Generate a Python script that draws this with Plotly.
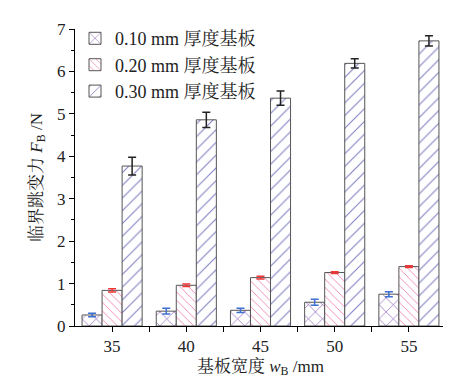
import plotly.graph_objects as go

widths = [35, 40, 45, 50, 55]
names = ["0.10 mm 厚度基板", "0.20 mm 厚度基板", "0.30 mm 厚度基板"]
f010 = [0.26, 0.35, 0.37, 0.56, 0.75]
e010 = [0.04, 0.07, 0.05, 0.07, 0.06]
f020 = [0.84, 0.96, 1.14, 1.26, 1.40]
e020 = [0.04, 0.03, 0.03, 0.02, 0.02]
f030 = [3.77, 4.86, 5.37, 6.19, 6.72]
e030 = [0.21, 0.18, 0.17, 0.11, 0.12]

series = [
    (names[0], f010, e010, "x", "#7e4fb0", "#3f6fd0", 10),
    (names[1], f020, e020, "\\", "#e8629e", "#f03838", 6),
    (names[2], f030, e030, "/", "#8080c4", "#222222", 9),
]

FONT = "Times New Roman, Liberation Serif, Noto Serif CJK SC, Noto Sans CJK SC"

fig = go.Figure()
for name, vals, errs, shape, fg, ecol, size in series:
    fig.add_trace(go.Bar(
        x=widths, y=vals, name=name,
        marker=dict(
            color="white",
            line=dict(color="#555555", width=1),
            pattern=dict(shape=shape, fgcolor=fg, bgcolor="white", size=size, solidity=0.12, fillmode="replace"),
        ),
        error_y=dict(type="data", array=errs, visible=True, color=ecol, thickness=1.5, width=4),
    ))

fig.update_layout(
    width=451, height=378,
    margin=dict(l=67, r=13, t=18, b=60),
    paper_bgcolor="white", plot_bgcolor="white",
    barmode="group", bargap=0.19, bargroupgap=0,
    font=dict(family=FONT, size=17, color="#222222"),
    showlegend=True,
    legend=dict(x=0.0, y=1.03, xanchor="left", yanchor="top",
                bgcolor="rgba(0,0,0,0)", font=dict(size=18, family=FONT),
                tracegroupgap=0, itemwidth=30),
    xaxis=dict(
        range=[32.5, 57.5], tickmode="array", tickvals=widths,
        ticktext=[str(w) for w in widths],
        showline=True, linecolor="black", linewidth=1, mirror=False,
        ticks="outside", ticklen=5, tickcolor="black", showgrid=False, zeroline=False,
        minor=dict(tickmode="array", tickvals=[37.5, 42.5, 47.5, 52.5, 57.5], ticks="outside", ticklen=5, tickcolor="black"),
        title=dict(text="基板宽度 <i>w</i><sub>B</sub> /mm", font=dict(size=17), standoff=4),
    ),
    yaxis=dict(
        range=[0, 7], dtick=1, tick0=0,
        showline=True, linecolor="black", linewidth=1, mirror=False,
        ticks="outside", ticklen=5, tickcolor="black", showgrid=False, zeroline=False,
        minor=dict(dtick=0.5, ticks="outside", ticklen=3, tickcolor="black"),
        title=dict(text="临界跳变力 <i>F</i><sub>B</sub> /N", font=dict(size=17), standoff=10),
    ),
)

fig.write_html("out.html")
